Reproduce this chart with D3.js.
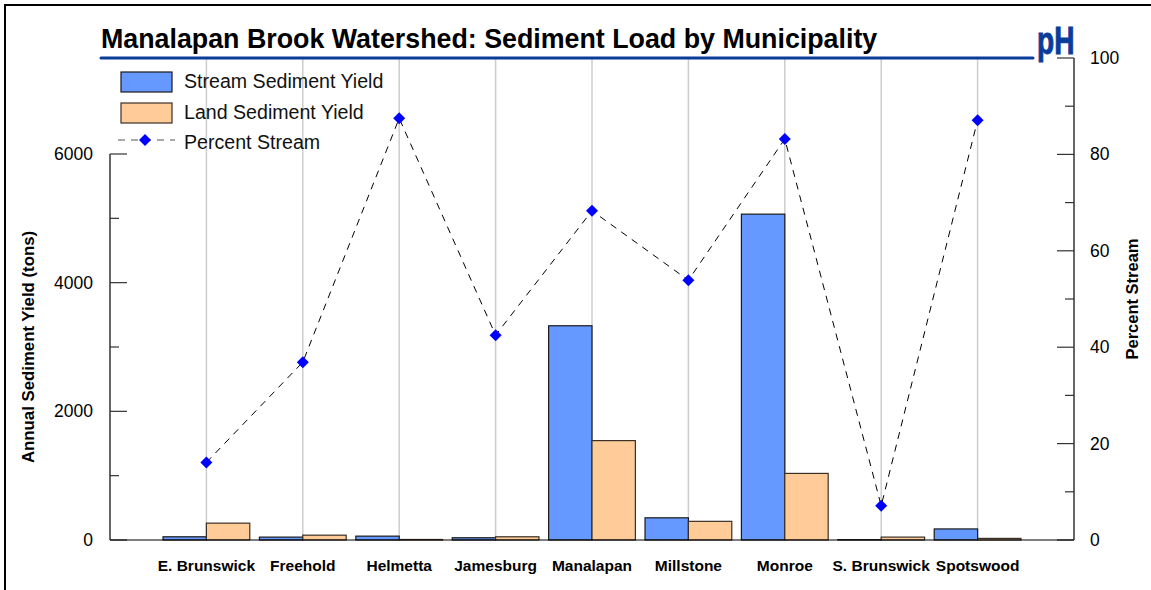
<!DOCTYPE html>
<html>
<head>
<meta charset="utf-8">
<script src="https://cdn.jsdelivr.net/npm/d3@7"></script>
<style>
  body { margin: 0; background: #fff; }
  svg { display: block; font-family: "Liberation Sans", Arial, Helvetica, sans-serif; }
</style>
</head>
<body>
<svg id="chart" width="1151" height="590"></svg>
<script>
var width = 1151,
    height = 590;

// data
var municipalities = ['E. Brunswick', 'Freehold', 'Helmetta', 'Jamesburg', 'Manalapan',
                      'Millstone', 'Monroe', 'S. Brunswick', 'Spotswood'];
var streamYield = [50, 45, 60, 35, 3330, 345, 5065, 5, 172];
var landYield = [262, 75, 8, 50, 1545, 290, 1035, 45, 25];
var percentStream = [16.1, 36.9, 87.5, 42.5, 68.3, 53.9, 83.2, 7.1, 87.1];
var leftTicks = [0, 1000, 2000, 3000, 4000, 5000, 6000];
var rightTicks = [0, 10, 20, 30, 40, 50, 60, 70, 80, 90, 100];

var plot = { left: 110, right: 1074, bottom: 540 };

var svg = d3.select('#chart');

var x = d3.scalePoint()
    .domain(municipalities)
    .range([plot.left, plot.right])
    .padding(1);

var barW = x.step() * 0.45;

var yLeft = d3.scaleLinear()
    .domain([0, 6000])
    .range([plot.bottom, 154]);

var yRight = d3.scaleLinear()
    .domain([0, 100])
    .range([plot.bottom, 58]);

// outer frame (only top/left visible)
svg.append('rect')
    .attr('x', 5).attr('y', 5)
    .attr('width', width).attr('height', height)
    .attr('fill', 'none').attr('stroke', '#000').attr('stroke-width', 2);

// vertical grid at categories
svg.append('g').selectAll('line')
    .data(municipalities)
    .enter().append('line')
    .attr('x1', d => x(d)).attr('x2', d => x(d))
    .attr('y1', yRight(100)).attr('y2', plot.bottom)
    .attr('stroke', '#cccccc').attr('stroke-width', 1.5);

// bars
var bars = svg.append('g');
bars.selectAll('rect.stream')
    .data(municipalities)
    .enter().append('rect')
    .attr('class', 'stream')
    .attr('x', d => x(d) - barW)
    .attr('y', (d, i) => yLeft(streamYield[i]))
    .attr('width', barW)
    .attr('height', (d, i) => plot.bottom - yLeft(streamYield[i]))
    .attr('fill', '#6699ff').attr('stroke', '#1a1a1a').attr('stroke-width', 1.2);

bars.selectAll('rect.land')
    .data(municipalities)
    .enter().append('rect')
    .attr('class', 'land')
    .attr('x', d => x(d))
    .attr('y', (d, i) => yLeft(landYield[i]))
    .attr('width', barW)
    .attr('height', (d, i) => plot.bottom - yLeft(landYield[i]))
    .attr('fill', '#ffcc99').attr('stroke', '#3a3025').attr('stroke-width', 1.2);

// left axis
var gl = svg.append('g');
gl.append('line')
    .attr('x1', plot.left).attr('x2', plot.left)
    .attr('y1', yLeft(6000)).attr('y2', plot.bottom)
    .attr('stroke', '#000').attr('stroke-width', 1.2);
gl.selectAll('line.tick')
    .data(leftTicks)
    .enter().append('line')
    .attr('class', 'tick')
    .attr('x1', plot.left)
    .attr('x2', d => plot.left + (d % 2000 === 0 ? 17 : 9))
    .attr('y1', d => yLeft(d)).attr('y2', d => yLeft(d))
    .attr('stroke', '#333').attr('stroke-width', 1.2);
gl.selectAll('text')
    .data(leftTicks.filter(d => d % 2000 === 0))
    .enter().append('text')
    .attr('x', 93)
    .attr('y', d => yLeft(d) + 6)
    .attr('text-anchor', 'end')
    .attr('font-size', 17.5)
    .text(d => d);

// right axis
var gr = svg.append('g');
gr.append('line')
    .attr('x1', plot.right).attr('x2', plot.right)
    .attr('y1', yRight(100)).attr('y2', plot.bottom)
    .attr('stroke', '#000').attr('stroke-width', 1.2);
gr.selectAll('line.tick')
    .data(rightTicks)
    .enter().append('line')
    .attr('class', 'tick')
    .attr('x1', plot.right)
    .attr('x2', d => plot.right - (d % 20 === 0 ? 17 : 9))
    .attr('y1', d => yRight(d)).attr('y2', d => yRight(d))
    .attr('stroke', '#333').attr('stroke-width', 1.2);
gr.selectAll('text')
    .data(rightTicks.filter(d => d % 20 === 0))
    .enter().append('text')
    .attr('x', 1090)
    .attr('y', d => yRight(d) + 6)
    .attr('font-size', 17.5)
    .text(d => d);

// bottom axis line
svg.append('line')
    .attr('x1', plot.left).attr('x2', plot.right)
    .attr('y1', plot.bottom).attr('y2', plot.bottom)
    .attr('stroke', '#000').attr('stroke-width', 1.2);

// category labels
svg.append('g').selectAll('text')
    .data(municipalities)
    .enter().append('text')
    .attr('x', d => x(d))
    .attr('y', 571)
    .attr('text-anchor', 'middle')
    .attr('font-size', 15.5)
    .attr('font-weight', 'bold')
    .text(d => d);

// percent stream line
var line = d3.line()
    .x((d, i) => x(municipalities[i]))
    .y(d => yRight(d));

svg.append('path')
    .datum(percentStream)
    .attr('d', line)
    .attr('fill', 'none')
    .attr('stroke', '#000')
    .attr('stroke-width', 1)
    .attr('stroke-dasharray', '7,6');

var diamond = d3.symbol().type(d3.symbolSquare).size(72);
svg.append('g').selectAll('path')
    .data(percentStream)
    .enter().append('path')
    .attr('d', diamond)
    .attr('transform', (d, i) => 'translate(' + x(municipalities[i]) + ',' + yRight(d) + ') rotate(45)')
    .attr('fill', '#0000ff');

// axis titles
svg.append('text')
    .attr('transform', 'translate(34,' + (yLeft(3000)) + ') rotate(-90)')
    .attr('text-anchor', 'middle')
    .attr('font-size', 16.8)
    .attr('font-weight', 'bold')
    .text('Annual Sediment Yield (tons)');

svg.append('text')
    .attr('transform', 'translate(1138,' + yRight(50) + ') rotate(-90)')
    .attr('text-anchor', 'middle')
    .attr('font-size', 16.5)
    .attr('font-weight', 'bold')
    .text('Percent Stream');

// title and rule
svg.append('text')
    .attr('x', 101).attr('y', 48)
    .attr('font-size', 26.8)
    .attr('font-weight', 'bold')
    .text('Manalapan Brook Watershed: Sediment Load by Municipality');

svg.append('line')
    .attr('x1', 101).attr('x2', 1033)
    .attr('y1', 58).attr('y2', 58)
    .attr('stroke', '#0a3c9c').attr('stroke-width', 3)
    .attr('stroke-linecap', 'round');

svg.append('text')
    .attr('transform', 'translate(1037,54) scale(0.72,1)')
    .attr('font-size', 39)
    .attr('font-weight', 'bold')
    .attr('fill', '#0a3c9c')
    .attr('stroke', '#0a3c9c')
    .attr('stroke-width', 1)
    .text('pH');

// legend
var legend = svg.append('g');
legend.append('rect')
    .attr('x', 121).attr('y', 72).attr('width', 51).attr('height', 20)
    .attr('fill', '#6699ff').attr('stroke', '#1a1a1a').attr('stroke-width', 1.2);
legend.append('rect')
    .attr('x', 121).attr('y', 103).attr('width', 51).attr('height', 20)
    .attr('fill', '#ffcc99').attr('stroke', '#3a3025').attr('stroke-width', 1.2);
legend.append('line')
    .attr('x1', 118).attr('x2', 175)
    .attr('y1', 140).attr('y2', 140)
    .attr('stroke', '#555').attr('stroke-width', 1.2)
    .attr('stroke-dasharray', '7,6');
legend.append('path')
    .attr('d', diamond)
    .attr('transform', 'translate(145,140) rotate(45)')
    .attr('fill', '#0000ff');
legend.selectAll('text')
    .data(['Stream Sediment Yield', 'Land Sediment Yield', 'Percent Stream'])
    .enter().append('text')
    .attr('x', 184)
    .attr('y', (d, i) => 88 + i * 30.5)
    .attr('font-size', 19.6)
    .attr('fill', '#111')
    .text(d => d);
</script>
</body>
</html>
